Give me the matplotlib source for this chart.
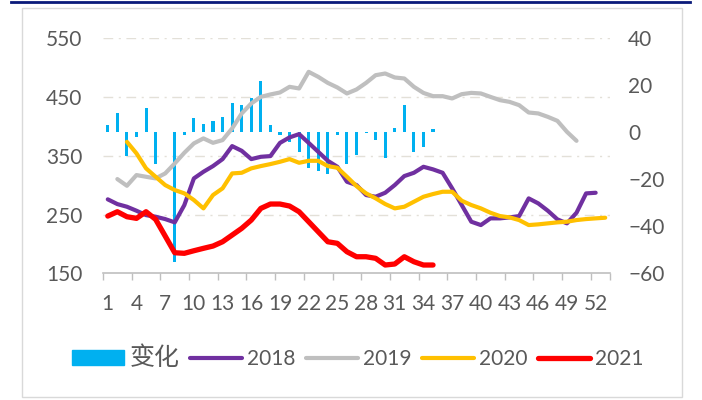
import matplotlib
matplotlib.use("Agg")
import matplotlib.pyplot as plt
import numpy as np
from matplotlib.patches import Rectangle
from matplotlib.lines import Line2D

plt.rcParams['font.family'] = ['Lato', 'Noto Sans CJK SC', 'DejaVu Sans']

weeks = list(range(1, 54))
xtick_labels = [str(w) for w in range(1, 53, 3)]

# 变化 (right axis), weeks 1-35
change = [3.1, 8.1, -10.0, -1.9, 10.5, -13.5, 0.0, -55.0, -1.3, 6.0,
          3.4, 4.9, 6.4, 12.6, 11.6, 14.5, 21.8, 3.1, -1.3, -4.0,
          -8.2, -15.3, -16.3, -17.7, -1.1, -13.3, -9.7, -0.5, -3.3, -11.1,
          1.7, 11.6, -8.2, -6.4, 1.3]

y2018 = [275.9, 267.8, 263.3, 256.5, 249.0, 246.3, 242.3, 236.7, 266.0, 311.5,
         322.8, 332.5, 344.4, 366.5, 358.5, 344.4, 348.3, 349.5, 372.0, 381.3,
         386.9, 372.0, 356.8, 341.5, 331.3, 305.8, 300.2, 283.2, 280.3, 287.1,
         300.2, 315.5, 321.1, 331.3, 326.9, 321.1, 294.6, 266.2, 237.8, 232.1,
         243.5, 243.5, 245.2, 247.4, 277.5, 269.0, 256.5, 241.8, 235.0, 253.1,
         286.0, 287.1]

y2019 = [None, 310.4, 299.0, 317.2, 314.3, 311.5, 320.0, 337.0, 355.1, 371.1,
         379.6, 372.1, 376.7, 396.6, 422.1, 439.1, 450.3, 454.4, 457.8, 467.4,
         464.6, 492.9, 484.4, 474.1, 466.3, 456.1, 462.9, 474.1, 487.2, 490.1,
         483.3, 481.6, 467.4, 457.0, 451.5, 451.5, 447.6, 454.9, 457.1, 456.1,
         450.3, 444.7, 441.8, 436.2, 423.7, 422.1, 416.3, 409.5, 390.8, 375.5]

y2020 = [None, None, 373.8, 354.1, 328.6, 314.3, 300.2, 291.7, 286.1, 274.7,
         260.5, 283.2, 294.6, 320.0, 321.1, 328.6, 332.5, 335.9, 339.8, 344.4,
         338.1, 341.5, 341.5, 332.5, 329.6, 314.3, 298.5, 286.1, 277.6, 267.9,
         260.5, 263.3, 271.8, 280.3, 284.9, 288.8, 288.8, 273.5, 266.2, 260.5,
         253.1, 247.4, 245.2, 240.6, 232.1, 233.3, 235.0, 236.7, 237.8, 240.6,
         242.3, 243.5, 244.6]

y2021 = [247.4, 254.8, 246.3, 243.5, 254.8, 241.8, 213.4, 185.0, 184.0, 188.4,
         192.5, 196.4, 203.7, 215.1, 226.5, 240.6, 260.5, 267.9, 267.9, 264.5,
         254.8, 237.8, 220.7, 203.7, 201.0, 186.7, 178.2, 178.2, 175.5, 164.1,
         165.8, 178.2, 169.7, 164.1, 164.1]

def series(vals):
    x = [w for w, v in zip(weeks, vals) if v is not None]
    y = [v for v in vals if v is not None]
    return x, y

fig = plt.figure(figsize=(7.02, 4.0), dpi=100)
W, H = 702, 400
# outer frame and top navy line
fig.patches.append(Rectangle((22 / W, 1 - 397 / H), (682 - 22) / W, (397 - 8) / H,
                             transform=fig.transFigure, fill=False,
                             edgecolor='#D9D9D9', linewidth=1.0))
fig.lines.append(Line2D([11 / W, 690 / W], [1 - 1.5 / H, 1 - 1.5 / H],
                        transform=fig.transFigure, color='#0A1A7A', linewidth=2.0))

left, right, top, bottom = 103, 610, 38.3, 273.3
ax = fig.add_axes([left / W, 1 - bottom / H, (right - left) / W, (bottom - top) / H])
ax2 = ax.twinx()
ax.set_zorder(ax2.get_zorder() + 1)
ax.patch.set_visible(False)

tc = '#595959'
fs = 15
bar_color = '#00B0F0'
ax2.bar(weeks[:len(change)], change, width=0.32, color=bar_color, zorder=2)
ax2.set_ylim(-60, 40)
ax2.set_yticks(np.arange(-60, 41, 20))

c18, c19, c20, c21 = '#7030A0', '#BFBFBF', '#FFC000', '#FF0000'
ax.plot(*series(y2019), color=c19, lw=3.0, solid_capstyle='round', solid_joinstyle='round', zorder=3)
ax.plot(*series(y2018), color=c18, lw=3.0, solid_capstyle='round', solid_joinstyle='round', zorder=4)
ax.plot(*series(y2020), color=c20, lw=3.0, solid_capstyle='round', solid_joinstyle='round', zorder=5)
ax.plot(*series(y2021), color=c21, lw=3.8, solid_capstyle='round', solid_joinstyle='round', zorder=6)

ax.set_xlim(0.5, 53.5)
ax.set_ylim(150, 550)
ax.set_yticks([150, 250, 350, 450, 550])
for yv in [250, 350, 450, 550]:
    ax2.axhline(-60 + (yv - 150) / 4.0, color='#E3E0D8', lw=1.0,
                linestyle=(0, (7, 4, 1.5, 4)), zorder=1)

ax.set_xticks(list(range(1, 53, 3)))
ax.set_xticklabels(xtick_labels)
ax.set_xticks(list(np.arange(0.5, 52, 3)) + [53.5], minor=True)
ax.tick_params(axis='x', which='major', length=0, pad=15, labelsize=fs, labelcolor=tc)
ax.tick_params(axis='x', which='minor', length=5, width=1, color='#BFBFBF')
ax.tick_params(axis='y', length=0, pad=15, labelsize=fs, labelcolor=tc)
ax2.tick_params(axis='y', length=0, pad=13, labelsize=fs, labelcolor=tc)

for a in (ax, ax2):
    for s in ('left', 'right', 'top'):
        a.spines[s].set_visible(False)
ax2.spines['bottom'].set_visible(False)
ax.spines['bottom'].set_color('#BFBFBF')
ax.spines['bottom'].set_linewidth(1.2)

handles = [Rectangle((0, 0), 1, 1, color=bar_color),
           Line2D([], [], color=c18, lw=3.0, solid_capstyle='round'),
           Line2D([], [], color=c19, lw=3.0, solid_capstyle='round'),
           Line2D([], [], color=c20, lw=3.0, solid_capstyle='round'),
           Line2D([], [], color=c21, lw=3.8, solid_capstyle='round')]
labels = ['变化', '2018', '2019', '2020', '2021']
leg = fig.legend(handles, labels, loc='center', bbox_to_anchor=(358 / W, 1 - 358 / H),
                 ncol=5, frameon=False, fontsize=fs, handlelength=2.5,
                 handletextpad=0.25, columnspacing=0.5, labelcolor=tc)
leg.get_texts()[0].set_fontsize(18)
leg.get_texts()[0].set_fontweight('light')

fig.savefig('out.png', dpi=100)
